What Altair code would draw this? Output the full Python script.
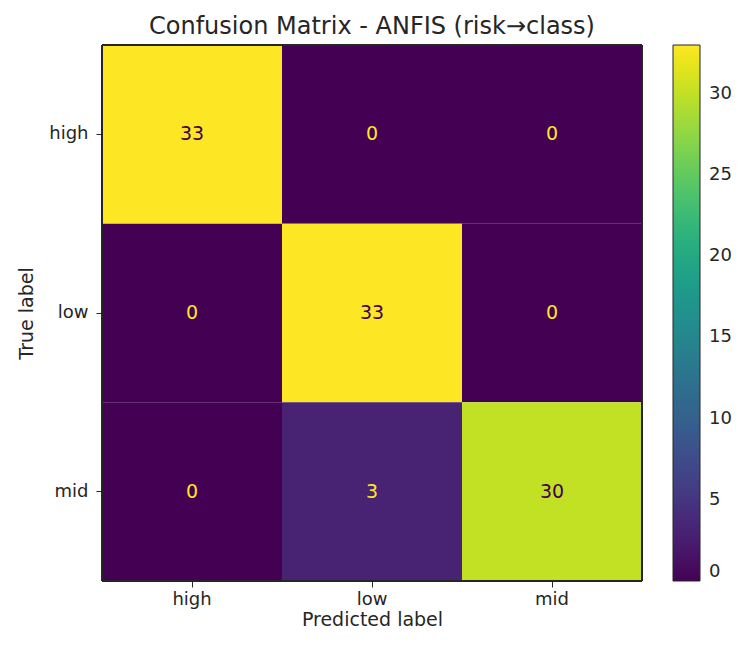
import altair as alt
import pandas as pd

classes = ["high", "low", "mid"]
true_labels = ["high", "high", "high", "low", "low", "low", "mid", "mid", "mid"]
pred_labels = ["high", "low", "mid", "high", "low", "mid", "high", "low", "mid"]
counts = [33, 0, 0, 0, 33, 0, 0, 3, 30]
cbar_ticks = [0, 5, 10, 15, 20, 25, 30]

df = pd.DataFrame({"true": true_labels, "pred": pred_labels, "count": counts})
vmax = max(counts)
thresh = (max(counts) + min(counts)) / 2.0

font = "DejaVu Sans"
ink = "#262626"
W, H = 540, 536

x_enc = alt.X("pred:N", sort=classes, title="Predicted label",
              axis=alt.Axis(labelAngle=0, labelFontSize=18, titleFontSize=19,
                            labelColor=ink, titleColor=ink, tickColor=ink,
                            tickSize=6, labelPadding=3, titlePadding=2,
                            domain=False, grid=False))
y_enc = alt.Y("true:N", sort=classes, title="True label",
              axis=alt.Axis(labelFontSize=18, titleFontSize=19,
                            labelColor=ink, titleColor=ink, tickColor=ink,
                            tickSize=6, labelPadding=8, titlePadding=12,
                            domain=False, grid=False))

rects = alt.Chart(df).mark_rect(strokeWidth=0).encode(
    x=x_enc,
    y=y_enc,
    color=alt.Color("count:Q", scale=alt.Scale(scheme="viridis", domain=[0, vmax]),
                    legend=alt.Legend(title=None, values=cbar_ticks, type="gradient",
                                      gradientLength=H, gradientThickness=27,
                                      gradientStrokeColor=ink, gradientStrokeWidth=1,
                                      labelFontSize=18, labelColor=ink,
                                      labelOverlap=False, labelOffset=9,
                                      offset=31, direction="vertical")),
)

texts = alt.Chart(df).mark_text(fontSize=19, font=font).encode(
    x=alt.X("pred:N", sort=classes),
    y=alt.Y("true:N", sort=classes),
    text=alt.Text("count:Q"),
    color=alt.condition(alt.datum.count < thresh, alt.value("#fde725"), alt.value("#440154")),
)

frame = alt.Chart(df).mark_rect(fill=None, stroke=ink, strokeWidth=1).encode(
    x=alt.value(0), x2=alt.value(W), y=alt.value(0), y2=alt.value(H)
)

chart = (rects + texts + frame).properties(
    width=W, height=H,
    title=alt.Title("Confusion Matrix - ANFIS (risk→class)", fontSize=24,
                    font=font, fontWeight="normal", color=ink, offset=6,
                    anchor="middle"),
    autosize=alt.AutoSizeParams(type="none"),
    padding={"left": 94, "top": 37, "right": 91, "bottom": 50},
).configure_view(
    stroke=None
).configure(
    font=font
).configure_axis(
    labelFont=font, titleFont=font, titleFontWeight="normal"
).configure_legend(
    labelFont=font
)

chart.save("out.html", embed_options={"renderer": "svg", "actions": False})
